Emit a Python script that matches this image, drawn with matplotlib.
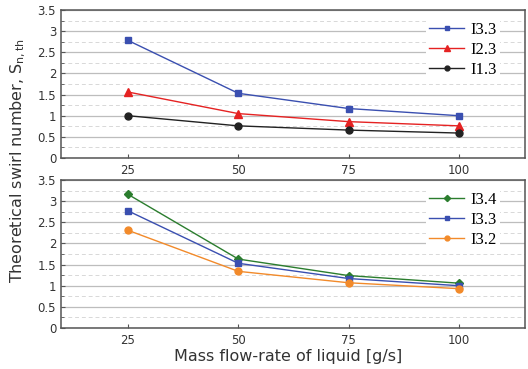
import matplotlib
matplotlib.use("Agg")
import matplotlib.pyplot as plt
from matplotlib.ticker import MultipleLocator

flow = [25, 50, 75, 100]
top_i33 = [2.78, 1.53, 1.17, 1.00]
top_i23 = [1.56, 1.05, 0.86, 0.76]
top_i13 = [1.00, 0.76, 0.66, 0.59]
bot_i34 = [3.16, 1.63, 1.24, 1.06]
bot_i33 = [2.77, 1.53, 1.17, 1.00]
bot_i32 = [2.31, 1.34, 1.07, 0.93]
yticks = [0, 0.5, 1, 1.5, 2, 2.5, 3, 3.5]
ytick_labels = ["0", "0.5", "1", "1.5", "2", "2.5", "3", "3.5"]

blue = "#3a4fb0"
red = "#e52222"
black = "#222222"
green = "#2b7d2e"
orange = "#f28a2a"

fig = plt.figure(figsize=(5.28, 3.69), dpi=100)
ax1 = fig.add_axes([61/528, 1 - 158/369, (525-61)/528, (158-10)/369])
ax2 = fig.add_axes([61/528, 1 - 328/369, (525-61)/528, (328-180)/369])

def style(ax):
    ax.set_xlim(9.8, 115)
    ax.set_ylim(0, 3.5)
    ax.set_xticks(flow)
    ax.set_yticks(yticks)
    ax.set_yticklabels(ytick_labels)
    ax.yaxis.set_minor_locator(MultipleLocator(0.25))
    ax.grid(which="major", axis="y", color="#bdbdbd", lw=0.9)
    ax.grid(which="minor", axis="y", color="#d8d8d8", lw=0.7, ls=(0, (4, 3)))
    ax.set_axisbelow(True)
    ax.tick_params(which="both", direction="in", labelsize=8.5, labelcolor="#333333", color="#555555")
    ax.tick_params(which="major", length=3)
    ax.tick_params(which="minor", length=2)
    ax.tick_params(axis="x", pad=4)
    for s in ax.spines.values():
        s.set_color("#555555")
        s.set_linewidth(1.1)

style(ax1)
style(ax2)

ax1.plot(flow, top_i33, color=blue, marker="s", ms=5, lw=1, label="I3.3")
ax1.plot(flow, top_i23, color=red, marker="^", ms=6, lw=1, label="I2.3")
ax1.plot(flow, top_i13, color=black, marker="o", ms=5, lw=1, label="I1.3")

ax2.plot(flow, bot_i34, color=green, marker="D", ms=4.5, lw=1, label="I3.4")
ax2.plot(flow, bot_i33, color=blue, marker="s", ms=5, lw=1, label="I3.3")
ax2.plot(flow, bot_i32, color=orange, marker="o", ms=5, lw=1, label="I3.2")

for ax in (ax1, ax2):
    leg = ax.legend(loc="upper right", bbox_to_anchor=(0.965, 1.0), frameon=True,
                    prop={"family": "Liberation Serif", "size": 12}, markerscale=0.7,
                    handlelength=2.1, handletextpad=0.4, labelspacing=0.25,
                    borderpad=0.2, fancybox=False)
    leg.get_frame().set_edgecolor("none")
    leg.get_frame().set_facecolor("white")
    leg.get_frame().set_alpha(1)

fig.text(18/528, 1 - 160/369, "Theoretical swirl number, S$_{\\mathregular{n,th}}$",
         rotation=90, ha="center", va="center", fontsize=11.5, color="#333333")
fig.text((61+525)/2/528 - 5/528, 1 - 356/369, "Mass flow-rate of liquid [g/s]",
         ha="center", va="center", fontsize=11.5, color="#333333")

fig.savefig("out.png", dpi=100)
